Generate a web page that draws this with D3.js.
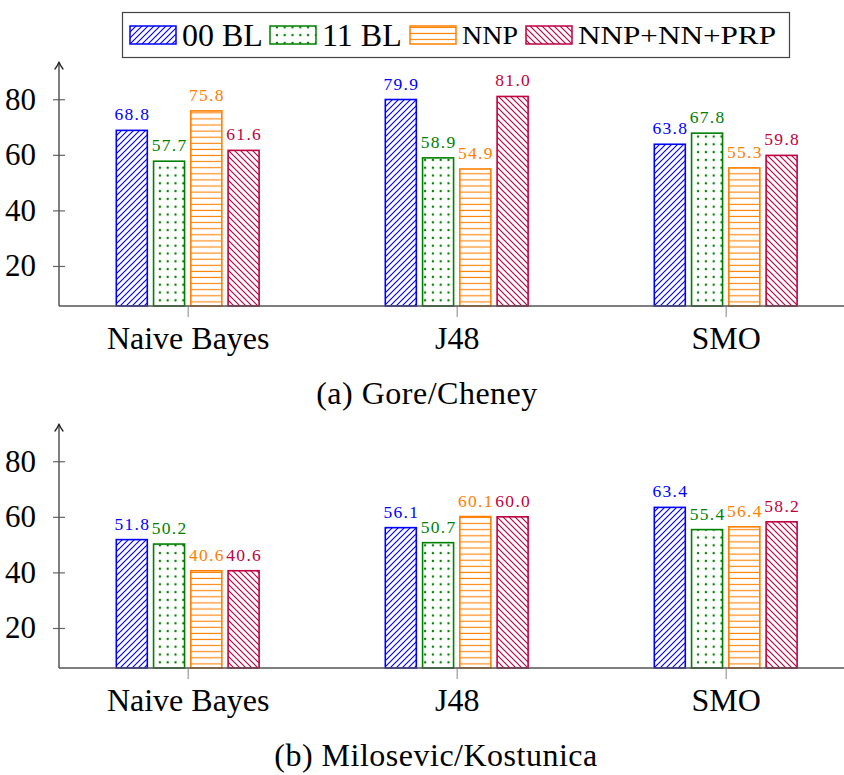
<!DOCTYPE html>
<html>
<head>
<meta charset="utf-8">
<script src="https://cdn.jsdelivr.net/npm/d3@7"></script>
<style>
  html, body { margin: 0; padding: 0; background: #fff; }
  svg { display: block; }
  svg text { font-family: "Liberation Serif", "DejaVu Serif", serif; }
</style>
</head>
<body>
<svg id="chart" width="844" height="775"></svg>
<script>
// ---- data ----
const categories = ["Naive Bayes", "J48", "SMO"];
const seriesNames = ["00 BL", "11 BL", "NNP", "NNP+NN+PRP"];
const yTicks = [20, 40, 60, 80];

// (a) Gore/Cheney
const gore00BL = [68.8, 79.9, 63.8];
const gore11BL = [57.7, 58.9, 67.8];
const goreNNP = [75.8, 54.9, 55.3];
const goreNNPNNPRP = [61.6, 81.0, 59.8];

// (b) Milosevic/Kostunica
const milo00BL = [51.8, 56.1, 63.4];
const milo11BL = [50.2, 50.7, 55.4];
const miloNNP = [40.6, 60.1, 56.4];
const miloNNPNNPRP = [40.6, 60.0, 58.2];

const panelTitles = ["(a) Gore/Cheney", "(b) Milosevic/Kostunica"];

// ---- style ----
const colors = ["#0000ff", "#008000", "#ff8000", "#bf0040"];
const serif = "'Liberation Serif', 'DejaVu Serif', serif";
const fmt = d3.format(".1f");

const svg = d3.select("#chart");
const defs = svg.append("defs");

// fill patterns: north-east lines, dots, horizontal lines, north-west lines
function makePattern(i) {
  const c = colors[i];
  const p = defs.append("pattern")
    .attr("id", "pat" + i)
    .attr("patternUnits", "userSpaceOnUse");
  if (i === 0) {
    p.attr("width", 6).attr("height", 6);
    p.append("path").attr("d", "M-1,1 L1,-1 M0,6 L6,0 M5,7 L7,5")
      .attr("stroke", c).attr("stroke-width", 1.15).attr("fill", "none");
  } else if (i === 1) {
    p.attr("width", 7.8).attr("height", 7.8);
    p.append("circle").attr("cx", 3.9).attr("cy", 3.9).attr("r", 1.2).attr("fill", c);
  } else if (i === 2) {
    p.attr("width", 8).attr("height", 6.1);
    p.append("path").attr("d", "M0,3 L8,3")
      .attr("stroke", c).attr("stroke-width", 1.1).attr("fill", "none");
  } else {
    p.attr("width", 6).attr("height", 6);
    p.append("path").attr("d", "M-1,5 L1,7 M0,0 L6,6 M5,-1 L7,1")
      .attr("stroke", c).attr("stroke-width", 1.15).attr("fill", "none");
  }
}
colors.forEach((_, i) => makePattern(i));

// ---- scales ----
const x = d3.scalePoint().domain(categories).range([187.7, 725.7]);
const xs = d3.scalePoint().domain(seriesNames).range([-55.9, 55.9]);
const barW = 31;
const y = d3.scaleLinear().domain([5.6, 93.4]).range([306, 62]);
const axisX = 59;

function drawPanel(offsetY, seriesValues, title, captionX) {
  const g = svg.append("g").attr("transform", `translate(0,${offsetY})`);
  const base = y.range()[0];
  const top = y.range()[1];

  // x axis with category ticks
  const gx = g.append("g").attr("transform", `translate(0,${base})`)
    .call(d3.axisBottom(x).tickSize(11));
  gx.attr("font-family", null);
  gx.select(".domain").remove();
  gx.selectAll(".tick line").attr("stroke", "#9a9a9a").attr("stroke-width", 1.2);
  gx.selectAll(".tick text")
    .attr("y", 43).attr("dy", 0)
    .attr("fill", "#000")
    .style("font-size", "32px")
    .style("font-family", serif);

  // y axis
  const gy = g.append("g").attr("transform", `translate(${axisX},0)`)
    .call(d3.axisLeft(y).tickValues(yTicks).tickSize(6).tickPadding(17));
  gy.attr("font-family", null);
  gy.select(".domain").remove();
  gy.selectAll(".tick line").attr("x1", -6).attr("x2", 6)
    .attr("stroke", "#666").attr("stroke-width", 1.2);
  gy.selectAll(".tick text")
    .attr("fill", "#000")
    .style("font-size", "31px")
    .style("font-family", serif);

  // bars
  seriesValues.forEach((vals, si) => {
    const sg = g.append("g");
    sg.selectAll("rect").data(vals).join("rect")
      .attr("x", (d, i) => x(categories[i]) + xs(seriesNames[si]) - barW / 2)
      .attr("y", d => y(d))
      .attr("width", barW)
      .attr("height", d => base - y(d))
      .attr("fill", `url(#pat${si})`)
      .attr("stroke", colors[si])
      .attr("stroke-width", 1.6);
    sg.selectAll("text").data(vals).join("text")
      .attr("x", (d, i) => x(categories[i]) + xs(seriesNames[si]) + 0.6)
      .attr("y", d => y(d) - 10)
      .attr("text-anchor", "middle")
      .attr("fill", colors[si])
      .style("font-family", serif)
      .style("font-size", "17.5px")
      .style("letter-spacing", "1.3px")
      .text(d => fmt(d));
  });

  // axis lines
  g.append("line")
    .attr("x1", axisX).attr("x2", 844)
    .attr("y1", base).attr("y2", base)
    .attr("stroke", "#555").attr("stroke-width", 1.5);
  g.append("line")
    .attr("x1", axisX).attr("x2", axisX)
    .attr("y1", base).attr("y2", top + 1)
    .attr("stroke", "#555").attr("stroke-width", 1.5);
  g.append("path")
    .attr("d", `M${axisX - 4},${top + 7} Q${axisX - 1.5},${top + 4} ${axisX},${top} Q${axisX + 1.5},${top + 4} ${axisX + 4},${top + 7}`)
    .attr("fill", "none").attr("stroke", "#222").attr("stroke-width", 1.3)
    .attr("stroke-linejoin", "round").attr("stroke-linecap", "round");

  // caption
  g.append("text")
    .attr("x", captionX).attr("y", 404)
    .attr("text-anchor", "middle")
    .style("font-family", serif)
    .style("font-size", "32px")
    .style("letter-spacing", "0.5px")
    .text(title);
}

drawPanel(0, [gore00BL, gore11BL, goreNNP, goreNNPNNPRP], panelTitles[0], 427);
drawPanel(362, [milo00BL, milo11BL, miloNNP, miloNNPNNPRP], panelTitles[1], 436);

// ---- legend ----
const legend = svg.append("g");
legend.append("rect")
  .attr("x", 122.5).attr("y", 12.5).attr("width", 667).attr("height", 45)
  .attr("fill", "#fff").attr("stroke", "#444").attr("stroke-width", 1.2);

const legendSwatchX = [130, 270, 410, 526];
const legendTextSpec = [
  { size: 32, len: null },
  { size: 32, len: null },
  { size: 26, len: 56 },
  { size: 26, len: 198 }
];
seriesNames.forEach((name, i) => {
  legend.append("rect")
    .attr("x", legendSwatchX[i]).attr("y", 26)
    .attr("width", 46).attr("height", 18)
    .attr("fill", `url(#pat${i})`)
    .attr("stroke", colors[i]).attr("stroke-width", 1.5);
  const t = legend.append("text")
    .attr("x", legendSwatchX[i] + 52)
    .attr("y", i < 2 ? 46 : 44)
    .style("font-family", serif)
    .style("font-size", legendTextSpec[i].size + "px")
    .text(name);
  if (legendTextSpec[i].len) {
    t.attr("textLength", legendTextSpec[i].len).attr("lengthAdjust", "spacingAndGlyphs");
  }
});
</script>
</body>
</html>
